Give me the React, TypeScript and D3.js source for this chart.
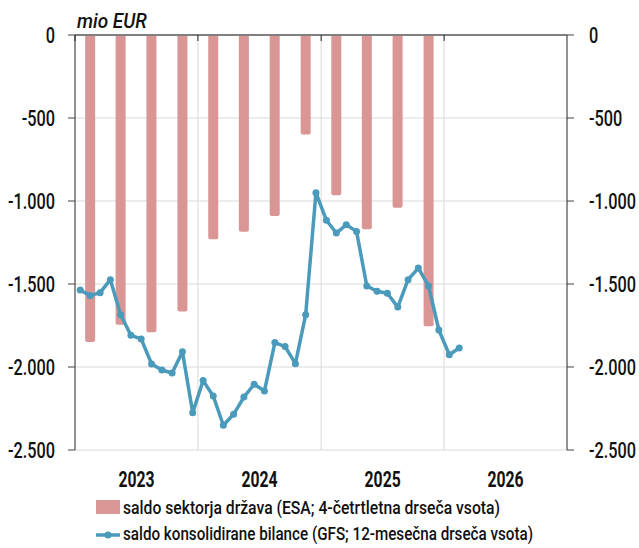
import React from "react";
import * as d3 from "d3";

const quarters = ["2023Q1","2023Q2","2023Q3","2023Q4","2024Q1","2024Q2","2024Q3","2024Q4","2025Q1","2025Q2","2025Q3","2025Q4"];
const esaValues = [-1850, -1745, -1790, -1665, -1230, -1185, -1090, -600, -965, -1170, -1040, -1755];

const gfsStart = { year: 2023, month: 0 };
const gfsValues = [
  -1536, -1570, -1552, -1474, -1685, -1809, -1831, -1982, -2018, -2036, -1908, -2275,
  -2082, -2175, -2351, -2285, -2181, -2104, -2145, -1853, -1877, -1980, -1685, -950,
  -1116, -1193, -1143, -1183, -1512, -1544, -1556, -1639, -1474, -1404, -1512, -1777,
  -1926, -1886,
];

const yTicks = [0, -500, -1000, -1500, -2000, -2500];
const years = [2023, 2024, 2025, 2026];
const legendLabels = [
  "saldo sektorja država (ESA; 4-četrtletna drseča vsota)",
  "saldo konsolidirane bilance (GFS; 12-mesečna drseča vsota)",
];

const barColor = "#da9595";
const lineColor = "#4a9abb";
const font = "Roboto, 'DejaVu Sans', sans-serif";

const fmt = (v: number) => {
  if (v === 0) return "0";
  const s = Math.abs(v).toString().replace(/\B(?=(\d{3})+(?!\d))/g, ".");
  return "-" + s;
};

type TProps = {
  x: number; y: number; sx?: number; size: number; anchor?: "start" | "middle" | "end";
  weight?: number | string; italic?: boolean; dy?: string; children: React.ReactNode;
};
const T = ({ x, y, sx = 0.74, size, anchor = "start", weight = 500, italic, dy, children }: TProps) => (
  <g transform={`translate(${x},${y}) scale(${sx},1)`}>
    <text x={0} y={0} dy={dy} textAnchor={anchor} fontSize={size} fontWeight={weight} fontStyle={italic ? "italic" : "normal"} fill="#111">{children}</text>
  </g>
);

export default function App() {
  const W = 639, H = 548;
  const left = 75, right = 567, top = 35, bottom = 450;
  const x = d3.scaleTime()
    .domain([new Date(2023, 0, 1), new Date(2027, 0, 1)])
    .range([left, right]);
  const y = d3.scaleLinear().domain([0, -2500]).range([top, bottom]);

  const qDate = (q: string, off: number) => {
    const yr = +q.slice(0, 4);
    const qi = +q.slice(5) - 1;
    return new Date(yr, qi * 3 + off, 1);
  };
  const mDate = (i: number) => new Date(gfsStart.year, gfsStart.month + i, 1);

  const barW = 10;
  const linePts: [number, number][] = gfsValues.map((v, i) => {
    const a = x(mDate(i));
    const b = x(mDate(i + 1));
    return [(a + b) / 2, y(v)];
  });
  const line = d3.line<[number, number]>()(linePts) || "";

  return (
    <svg width={W} height={H} style={{ display: "block", position: "absolute", left: 0, top: 0 }} fontFamily={font}>
      <rect width={W} height={H} fill="#fff" />
      {yTicks.filter(t => t !== 0).map(t => (
        <line key={t} x1={left} x2={right} y1={y(t)} y2={y(t)} stroke="#d9d9d9" strokeWidth={1} />
      ))}
      {years.slice(1).map(yr => (
        <line key={yr} x1={x(new Date(yr, 0, 1))} x2={x(new Date(yr, 0, 1))} y1={top} y2={bottom} stroke="#d9d9d9" strokeWidth={1} />
      ))}
      {quarters.map((q, i) => {
        const cx = (x(qDate(q, 0)) + x(qDate(q, 3))) / 2;
        const y0 = y(0), y1 = y(esaValues[i]);
        const r = 2;
        const path = `M${cx - barW / 2},${y0} L${cx - barW / 2},${y1 - r} Q${cx - barW / 2},${y1} ${cx - barW / 2 + r},${y1} L${cx + barW / 2 - r},${y1} Q${cx + barW / 2},${y1} ${cx + barW / 2},${y1 - r} L${cx + barW / 2},${y0} Z`;
        return <path key={q} d={path} fill={barColor} />;
      })}
      <line x1={left} x2={right} y1={y(0)} y2={y(0)} stroke="#7f7f7f" strokeWidth={2} />
      {years.map(yr => (
        <line key={"t" + yr} x1={x(new Date(yr, 0, 1))} x2={x(new Date(yr, 0, 1))} y1={top} y2={top + 6} stroke="#222" strokeWidth={1} />
      ))}
      <path d={line} fill="none" stroke={lineColor} strokeWidth={3.5} strokeLinejoin="round" />
      {linePts.map((p, i) => (
        <circle key={i} cx={p[0]} cy={p[1]} r={3.5} fill={lineColor} />
      ))}
      <line x1={left} x2={left} y1={top} y2={bottom} stroke="#222" strokeWidth={1} />
      <line x1={right} x2={right} y1={top} y2={bottom} stroke="#222" strokeWidth={1} />
      {yTicks.map(t => (
        <g key={"yt" + t}>
          <line x1={left - 7} x2={left} y1={y(t)} y2={y(t)} stroke="#444" strokeWidth={1} />
          <line x1={right} x2={right + 7} y1={y(t)} y2={y(t)} stroke="#444" strokeWidth={1} />
          <T x={55} y={y(t)} dy="0.36em" anchor="end" size={22}>{fmt(t)}</T>
          <T x={589} y={y(t)} dy="0.36em" anchor="start" size={22}>{fmt(t)}</T>
        </g>
      ))}
      <T x={77} y={28} size={20} italic sx={0.95}>mio EUR</T>
      {years.map(yr => (
        <T key={"yl" + yr} x={(x(new Date(yr, 0, 1)) + x(new Date(yr + 1, 0, 1))) / 2} y={486.5} anchor="middle" size={22.5} weight={700} sx={0.7}>{yr}</T>
      ))}
      <rect x={96} y={500} width={24} height={14} fill={barColor} />
      <text x={123} y={514} fontSize={19} fontWeight={500} fill="#111" textLength={377} lengthAdjust="spacingAndGlyphs">{legendLabels[0]}</text>
      <line x1={96} x2={120} y1={535} y2={535} stroke={lineColor} strokeWidth={3.5} />
      <circle cx={108} cy={535} r={3.5} fill={lineColor} />
      <text x={123} y={540} fontSize={19} fontWeight={500} fill="#111" textLength={410} lengthAdjust="spacingAndGlyphs">{legendLabels[1]}</text>
    </svg>
  );
}
